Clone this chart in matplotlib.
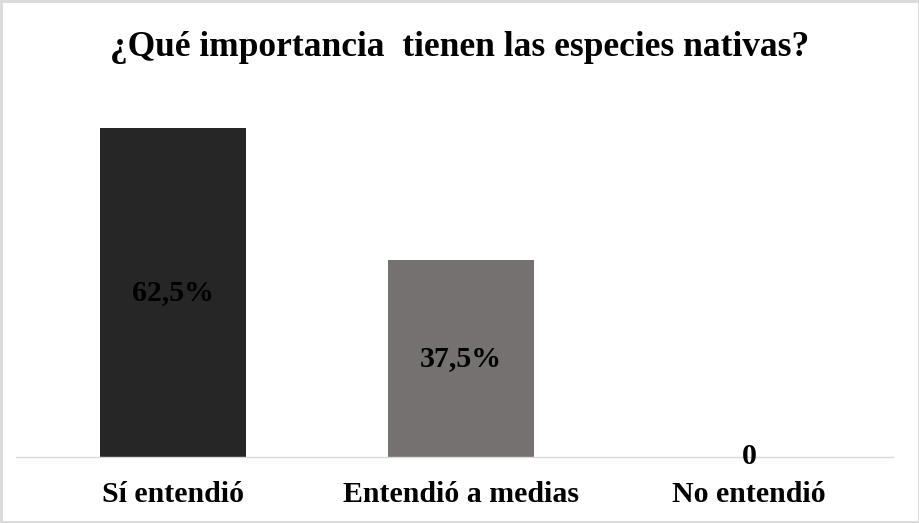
import matplotlib.pyplot as plt
from matplotlib.patches import Rectangle

categories = ["Sí entendió", "Entendió a medias", "No entendió"]
values = [62.5, 37.5, 0]
value_labels = ["62,5%", "37,5%", "0"]
bar_colors = ["#262626", "#767171", "#767171"]
title = "¿Qué importancia  tienen las especies nativas?"

plt.rcParams['font.family'] = ['Liberation Serif', 'DejaVu Serif']

fig = plt.figure(figsize=(9.2, 5.23), dpi=100)
W, H = 920, 523
# axes: baseline at y=457 px, spans x 16..893
ax = fig.add_axes([16 / W, (H - 457) / H, (893 - 16) / W, (457 - 100) / H])

x = list(range(len(categories)))
ax.bar(x, values, width=0.507, color=bar_colors)
ax.set_xlim(-0.545, 2.5)
ax.set_ylim(0, 357 / 5.26)

for xi, v, lab in zip(x, values, value_labels):
    ax.text(xi, v / 2, lab, ha='center', va='center', fontsize=21.5,
            fontweight='bold', color='black')

ax.set_xticks(x)
ax.set_xticklabels(categories, fontsize=21.5, fontweight='bold')
ax.tick_params(axis='x', length=0, pad=17)
ax.set_yticks([])
for side in ['left', 'right', 'top']:
    ax.spines[side].set_visible(False)
ax.spines['bottom'].set_color('#d9d9d9')
ax.spines['bottom'].set_linewidth(1)

fig.text(0.5, 1 - 47 / H, title, ha='center', va='center',
         fontsize=25.5, fontweight='bold')

# outer frame of the chart area
fig.patches.append(Rectangle((0.0015, 0.002), 0.997, 0.996, transform=fig.transFigure,
                             fill=False, edgecolor='#d9d9d9', linewidth=2))

fig.savefig("out.png", dpi=100)
